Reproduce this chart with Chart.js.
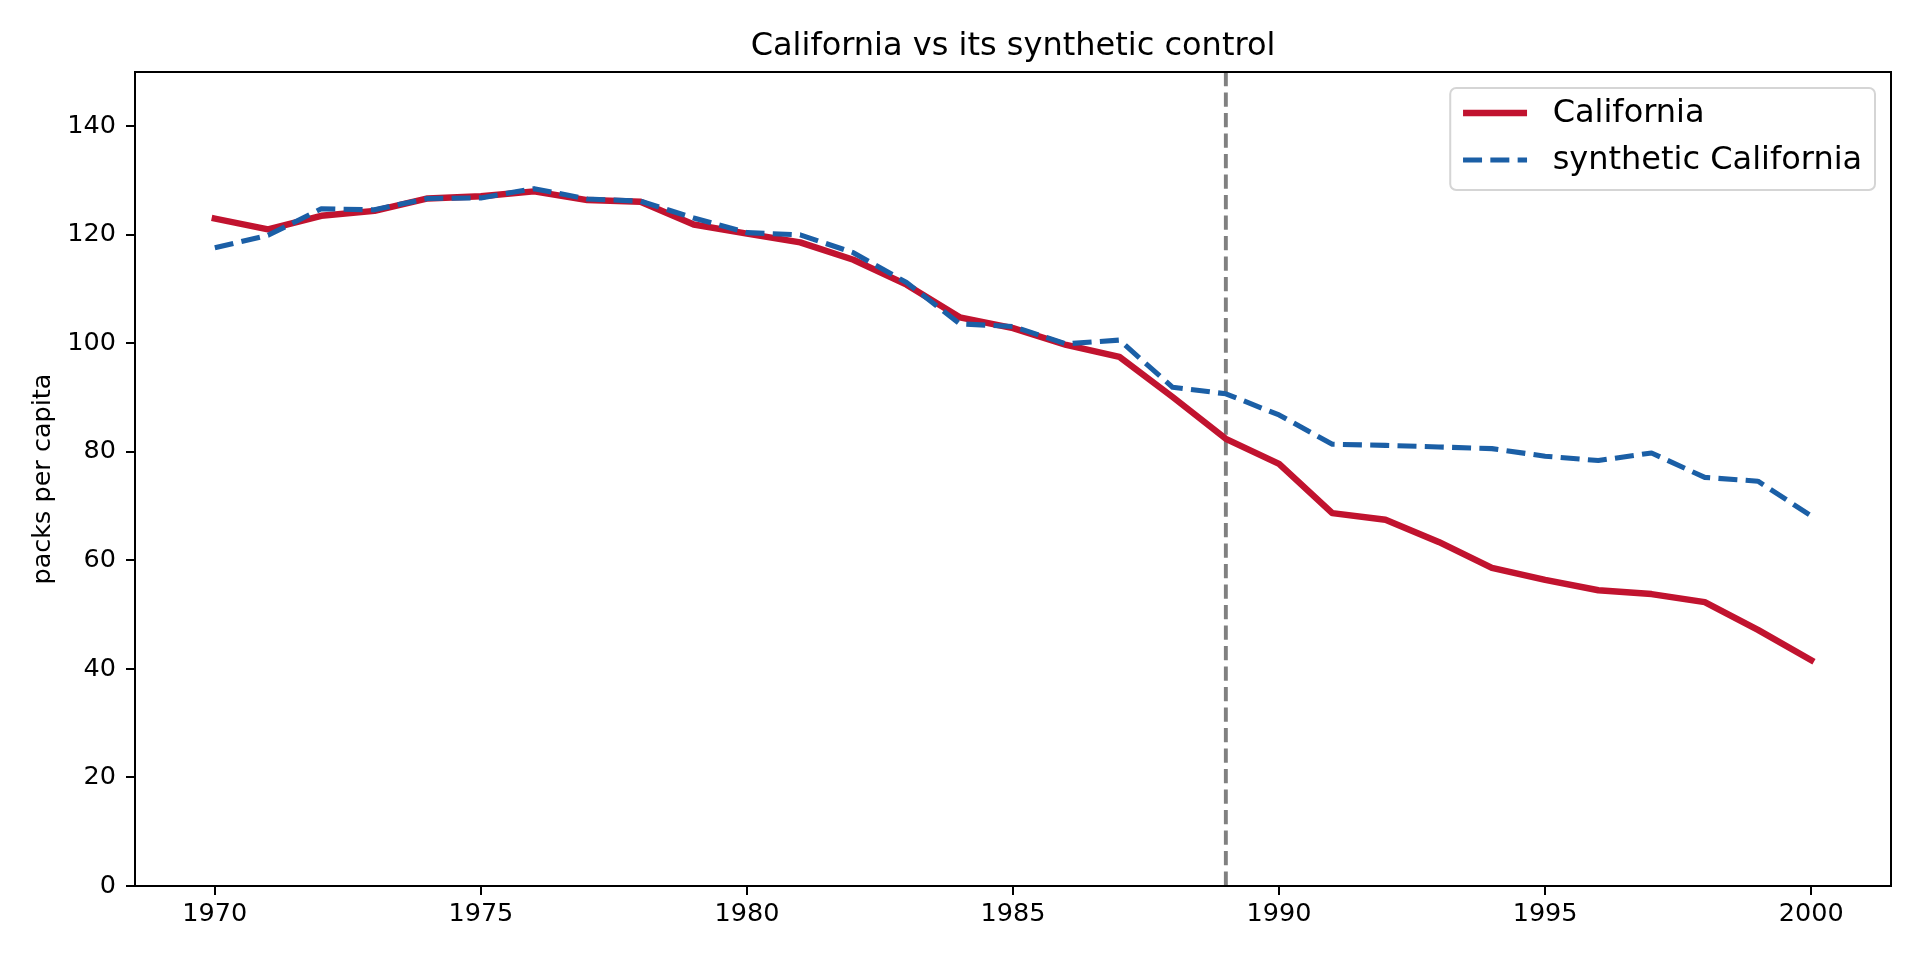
<!DOCTYPE html>
<html lang="en">
<head>
<meta charset="UTF-8">
<title>California vs its synthetic control</title>
<script src="https://cdn.jsdelivr.net/npm/chart.js"></script>
<style>
    html, body { margin: 0; padding: 0; background: #fff; }
    canvas { display: block; }
</style>
</head>
<body>
<canvas id="chart" width="1920" height="960"></canvas>
<script>
// data
var years = [1970, 1971, 1972, 1973, 1974, 1975, 1976, 1977, 1978, 1979,
             1980, 1981, 1982, 1983, 1984, 1985, 1986, 1987, 1988, 1989,
             1990, 1991, 1992, 1993, 1994, 1995, 1996, 1997, 1998, 1999, 2000];
var california = [123.0, 121.0, 123.5, 124.4, 126.7, 127.1, 128.0, 126.4, 126.1, 121.9,
                  120.2, 118.6, 115.4, 110.8, 104.8, 102.8, 99.7, 97.5, 90.1, 82.4,
                  77.8, 68.7, 67.5, 63.4, 58.6, 56.4, 54.5, 53.8, 52.3, 47.2, 41.6];
var synthetic = [117.6, 119.9, 124.8, 124.6, 126.7, 126.8, 128.5, 126.6, 126.2, 123.1,
                 120.4, 120.0, 116.7, 111.2, 103.6, 103.1, 99.9, 100.6, 91.9, 90.7,
                 86.8, 81.4, 81.2, 80.9, 80.6, 79.2, 78.4, 79.8, 75.3, 74.6, 68.2];
var xTicks = [1970, 1975, 1980, 1985, 1990, 1995, 2000];
var yTicks = [0, 20, 40, 60, 80, 100, 120, 140];
var treatmentYear = 1989;

var FONT = 'DejaVu Sans';
var RED = '#c1132f';
var BLUE = '#1b5fa6';

function toPoints(ys) {
    return years.map(function (x, i) { return { x: x, y: ys[i] }; });
}

// dashed vertical line at the treatment year
var vlinePlugin = {
    id: 'vline',
    beforeDatasetsDraw: function (chart) {
        var ctx = chart.ctx, area = chart.chartArea;
        var x = chart.scales.x.getPixelForValue(treatmentYear);
        ctx.save();
        ctx.strokeStyle = '#808080';
        ctx.lineWidth = 3.9;
        ctx.setLineDash([14.3, 6.2]);
        ctx.beginPath();
        ctx.moveTo(x, area.top);
        ctx.lineTo(x, area.bottom);
        ctx.stroke();
        ctx.restore();
    }
};

// axes frame + legend inside the plot (matplotlib style)
var framePlugin = {
    id: 'frame',
    afterDraw: function (chart) {
        var ctx = chart.ctx, a = chart.chartArea;
        ctx.save();
        ctx.strokeStyle = '#000';
        ctx.lineWidth = 2;
        ctx.strokeRect(a.left, a.top, a.right - a.left, a.bottom - a.top);

        // legend
        var fs = 32;
        ctx.font = fs + 'px "' + FONT + '"';
        var items = chart.data.datasets;
        var textW = 0;
        items.forEach(function (d) { textW = Math.max(textW, ctx.measureText(d.label).width); });
        var pad = 0.4 * fs, handleLen = 2 * fs, handlePad = 0.8 * fs;
        var w = pad * 2 + handleLen + handlePad + textW;
        var h = 102;
        var bx = a.right - 0.5 * fs - w;
        var by = a.top + 0.5 * fs;
        ctx.beginPath();
        ctx.roundRect(bx, by, w, h, 6);
        ctx.fillStyle = 'rgba(255,255,255,0.8)';
        ctx.fill();
        ctx.strokeStyle = '#d5d5d5';
        ctx.lineWidth = 2;
        ctx.stroke();

        var order = [1, 0]; // California first, then synthetic
        order.forEach(function (idx, row) {
            var d = items[idx];
            var cy = by + 25 + row * 47;
            var hx = bx + pad;
            var dashed = d.borderDash.length > 0;
            ctx.beginPath();
            ctx.strokeStyle = d.borderColor;
            ctx.lineWidth = d.borderWidth;
            ctx.lineCap = dashed ? 'butt' : 'square';
            ctx.setLineDash(d.borderDash);
            ctx.moveTo(hx + (dashed ? 0 : d.borderWidth / 2), cy);
            ctx.lineTo(hx + handleLen - (dashed ? 0 : d.borderWidth / 2), cy);
            ctx.stroke();
            ctx.setLineDash([]);
            ctx.fillStyle = '#000';
            ctx.textBaseline = 'middle';
            ctx.textAlign = 'left';
            ctx.fillText(d.label, hx + handleLen + handlePad, cy + 1);
        });
        ctx.restore();
    }
};

var ctx = document.getElementById('chart').getContext('2d');
var chart = new Chart(ctx, {
    type: 'line',
    data: {
        datasets: [{
            label: 'synthetic California',
            data: toPoints(synthetic),
            borderColor: BLUE,
            borderWidth: 5.1,
            borderDash: [19, 8.3],
            borderJoinStyle: 'round',
            pointRadius: 0,
            tension: 0,
            fill: false,
            order: 1
        }, {
            label: 'California',
            data: toPoints(california),
            borderColor: RED,
            borderWidth: 6.4,
            borderDash: [],
            borderJoinStyle: 'round',
            borderCapStyle: 'square',
            pointRadius: 0,
            tension: 0,
            fill: false,
            order: 2
        }]
    },
    options: {
        responsive: false,
        devicePixelRatio: 1,
        animation: false,
        events: [],
        layout: { padding: { left: 0, right: 29, top: 0, bottom: 0 } },
        plugins: {
            legend: { display: false },
            tooltip: { enabled: false },
            title: {
                display: true,
                text: 'California vs its synthetic control',
                color: '#000',
                fullSize: false,
                font: { family: FONT, size: 32, weight: 'normal' },
                padding: { top: 27, bottom: 6.6 }
            }
        },
        scales: {
            x: {
                type: 'linear',
                min: 1968.5,
                max: 2001.5,
                afterBuildTicks: function (axis) {
                    axis.ticks = xTicks.map(function (v) { return { value: v }; });
                },
                afterFit: function (axis) { axis.height = 74; },
                ticks: {
                    autoSkip: false,
                    maxRotation: 0,
                    color: '#000',
                    padding: 4,
                    font: { family: FONT, size: 25.5 },
                    callback: function (v) { return String(v); }
                },
                grid: {
                    display: true,
                    drawOnChartArea: false,
                    drawTicks: true,
                    tickLength: 9,
                    color: '#000',
                    lineWidth: 2
                },
                border: { display: false }
            },
            y: {
                type: 'linear',
                min: 0,
                max: 150,
                afterBuildTicks: function (axis) {
                    axis.ticks = yTicks.map(function (v) { return { value: v }; });
                },
                afterFit: function (axis) { axis.width = 135; },
                title: {
                    display: true,
                    text: 'packs per capita',
                    color: '#000',
                    font: { family: FONT, size: 25.5 },
                    padding: { top: 28, bottom: 0 }
                },
                ticks: {
                    color: '#000',
                    padding: 10,
                    font: { family: FONT, size: 25.5 },
                    callback: function (v) { return String(v); }
                },
                grid: {
                    display: true,
                    drawOnChartArea: false,
                    drawTicks: true,
                    tickLength: 9,
                    color: '#000',
                    lineWidth: 2
                },
                border: { display: false }
            }
        }
    },
    plugins: [vlinePlugin, framePlugin]
});
</script>
</body>
</html>
